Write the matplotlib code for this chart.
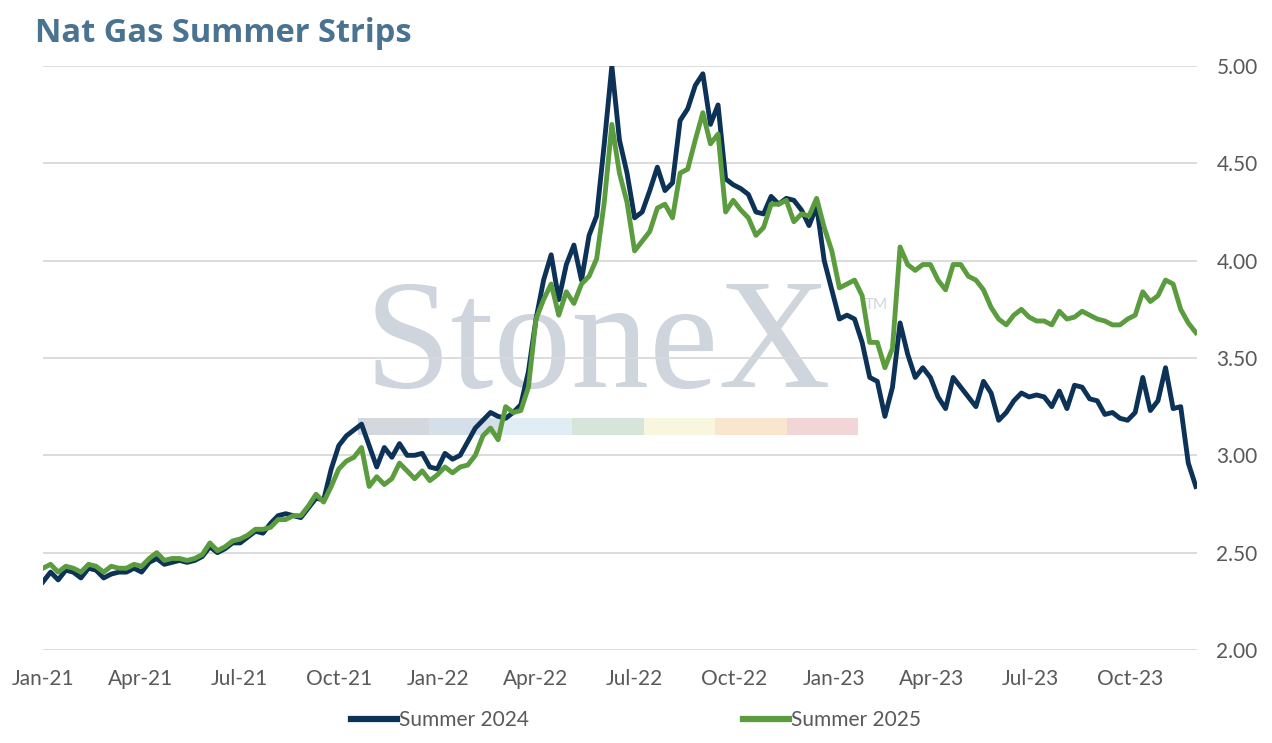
import numpy as np
import pandas as pd
import matplotlib
matplotlib.use("Agg")
import matplotlib.pyplot as plt
import matplotlib.dates as mdates
from matplotlib.patches import Rectangle

# weekly settles, starting 1 Jan 2021
start_date = "2021-01-01"

summer_2024 = [
    2.35, 2.40, 2.36, 2.41, 2.40, 2.37, 2.42, 2.41, 2.37, 2.39,
    2.40, 2.40, 2.42, 2.40, 2.45, 2.47, 2.44, 2.45, 2.46, 2.45,
    2.46, 2.48, 2.53, 2.50, 2.52, 2.55, 2.55, 2.58, 2.61, 2.60,
    2.65, 2.69, 2.70, 2.69, 2.68, 2.73, 2.78, 2.77, 2.93, 3.05,
    3.10, 3.13, 3.16, 3.05, 2.94, 3.04, 2.99, 3.06, 3.00, 3.00,
    3.01, 2.94, 2.93, 3.01, 2.98, 3.00, 3.07, 3.14, 3.18, 3.22,
    3.20, 3.19, 3.22, 3.26, 3.43, 3.70, 3.90, 4.03, 3.80, 3.98,
    4.08, 3.90, 4.13, 4.23, 4.60, 5.00, 4.62, 4.45, 4.22, 4.25,
    4.36, 4.48, 4.36, 4.40, 4.72, 4.78, 4.90, 4.96, 4.70, 4.80,
    4.42, 4.39, 4.37, 4.34, 4.25, 4.24, 4.33, 4.29, 4.32, 4.31,
    4.26, 4.18, 4.28, 4.00, 3.85, 3.70, 3.72, 3.70, 3.58, 3.40,
    3.38, 3.20, 3.35, 3.68, 3.52, 3.40, 3.45, 3.40, 3.30, 3.24,
    3.40, 3.35, 3.30, 3.25, 3.38, 3.32, 3.18, 3.22, 3.28, 3.32,
    3.30, 3.31, 3.30, 3.25, 3.33, 3.24, 3.36, 3.35, 3.29, 3.28,
    3.21, 3.22, 3.19, 3.18, 3.22, 3.40, 3.23, 3.28, 3.45, 3.24,
    3.25, 2.96, 2.84,
]

summer_2025 = [
    2.42, 2.44, 2.40, 2.43, 2.42, 2.40, 2.44, 2.43, 2.40, 2.43,
    2.42, 2.42, 2.44, 2.43, 2.47, 2.50, 2.46, 2.47, 2.47, 2.46,
    2.47, 2.49, 2.55, 2.51, 2.53, 2.56, 2.57, 2.59, 2.62, 2.62,
    2.63, 2.67, 2.67, 2.69, 2.69, 2.74, 2.80, 2.76, 2.84, 2.93,
    2.97, 2.99, 3.04, 2.84, 2.89, 2.85, 2.88, 2.96, 2.92, 2.88,
    2.92, 2.87, 2.90, 2.94, 2.91, 2.94, 2.95, 3.00, 3.10, 3.14,
    3.08, 3.25, 3.22, 3.23, 3.35, 3.70, 3.80, 3.88, 3.72, 3.84,
    3.78, 3.88, 3.92, 4.01, 4.30, 4.70, 4.45, 4.30, 4.05, 4.10,
    4.15, 4.27, 4.29, 4.22, 4.45, 4.47, 4.62, 4.76, 4.60, 4.65,
    4.25, 4.31, 4.26, 4.22, 4.13, 4.17, 4.29, 4.29, 4.31, 4.20,
    4.24, 4.23, 4.32, 4.17, 4.05, 3.86, 3.88, 3.90, 3.82, 3.58,
    3.58, 3.45, 3.55, 4.07, 3.98, 3.95, 3.98, 3.98, 3.90, 3.85,
    3.98, 3.98, 3.92, 3.90, 3.85, 3.76, 3.70, 3.67, 3.72, 3.75,
    3.71, 3.69, 3.69, 3.67, 3.74, 3.70, 3.71, 3.74, 3.72, 3.70,
    3.69, 3.67, 3.67, 3.70, 3.72, 3.84, 3.79, 3.82, 3.90, 3.88,
    3.75, 3.68, 3.63,
]

series_names = ["Summer 2024", "Summer 2025"]
y_ticks = [2.0, 2.5, 3.0, 3.5, 4.0, 4.5, 5.0]

dates = pd.date_range(start_date, periods=len(summer_2024), freq="7D")

navy = "#0d3257"
green = "#5b9c3e"
grey_txt = "#595959"

plt.rcParams["font.family"] = ["Lato", "DejaVu Sans"]

fig = plt.figure(figsize=(12.72, 7.43), dpi=100)
ax = fig.add_axes([0.0338, 0.1252, 0.9072, 0.786])

# watermark
ax.text(0.481, 0.45, "StoneX", transform=ax.transAxes, ha="center", va="baseline",
        fontsize=112, family="Liberation Serif", color="#cfd5dd", zorder=0.5)
ax.text(0.712, 0.59, "TM", transform=ax.transAxes, ha="left", va="center",
        fontsize=11, color="#cfd5dd", zorder=0.5)
band_colors = ["#d3d8df", "#d5dfea", "#e1edf5", "#d6e4da", "#f8f6df", "#f9e6cf", "#f1d5d7"]
bx0, bw = 0.273, 0.0619
for i, c in enumerate(band_colors):
    ax.add_patch(Rectangle((bx0 + i * bw, 0.368), bw, 0.029, transform=ax.transAxes,
                           facecolor=c, edgecolor="none", zorder=0.5))

ax.plot(dates, summer_2024, color=navy, lw=3.5, label=series_names[0], zorder=3)
ax.plot(dates, summer_2025, color=green, lw=3.5, label=series_names[1], zorder=3)

ax.set_ylim(2.0, 5.0)
ax.set_xlim(pd.Timestamp("2021-01-01"), pd.Timestamp("2023-12-02"))
ax.set_yticks(y_ticks)
ax.yaxis.set_major_formatter(matplotlib.ticker.FormatStrFormatter("%.2f"))
ax.yaxis.tick_right()
ax.xaxis.set_major_locator(mdates.MonthLocator(bymonth=[1, 4, 7, 10]))
ax.xaxis.set_major_formatter(mdates.DateFormatter("%b-%y"))
ax.tick_params(axis="both", length=0, labelsize=15, labelcolor=grey_txt)
ax.tick_params(axis="y", pad=14)
ax.tick_params(axis="x", pad=14)
ax.grid(axis="y", color="#d9d9d9", lw=1.3, zorder=0)
for s in ax.spines.values():
    s.set_visible(False)

fig.text(0.0275, 0.955, "Nat Gas Summer Strips", fontsize=23.5, fontweight="bold",
         family="Open Sans", color="#4a7391", ha="left", va="center")

leg = fig.legend(loc="center", bbox_to_anchor=(0.5, 0.031), ncol=2, frameon=False,
                 fontsize=15, labelcolor=grey_txt, handlelength=2.2, handletextpad=0.1,
                 columnspacing=10.3)
for h in leg.get_lines():
    h.set_linewidth(4.5)

fig.savefig("out.png", dpi=100)
